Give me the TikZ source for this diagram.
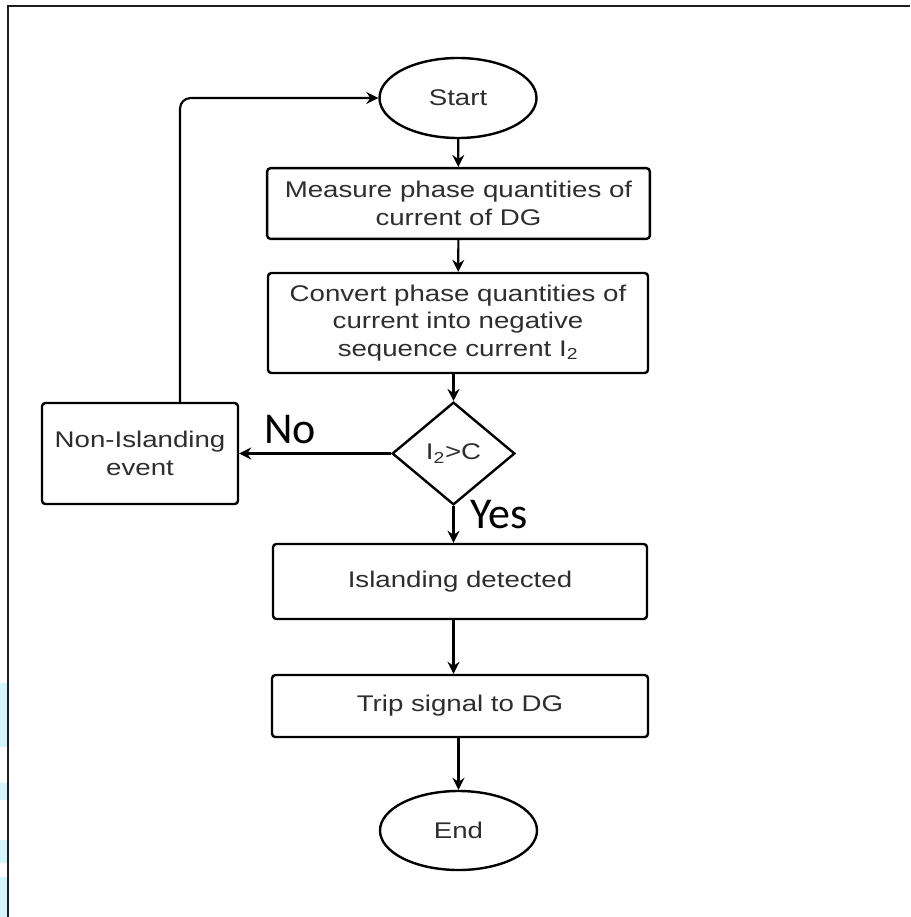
\documentclass[tikz,border=0pt]{standalone}
\usepackage{fontspec}
\setmainfont{Liberation Sans}[FakeStretch=1.22]
\newfontfamily\labfont{Carlito}
\usetikzlibrary{shapes.geometric,arrows.meta,calc}
\definecolor{txt}{HTML}{2E2E2E}
\definecolor{blot}{HTML}{D2F6FA}
\tikzset{
  box/.style={draw, line width=1.8pt, rounded corners=2.5pt, align=center, text=txt, inner sep=2pt,
     font=\fontsize{17}{20.5}\selectfont},
  oval/.style={draw, ellipse, line width=1.8pt, text=txt, inner sep=0pt, minimum width=117.75pt, minimum height=60pt,
     font=\fontsize{17}{20.5}\selectfont},
  decision/.style={draw, diamond, line width=1.8pt, text=txt, inner sep=0pt, minimum width=92pt, minimum height=77pt,
     font=\fontsize{17}{20.5}\selectfont},
  flow/.style={line width=1.6pt, -{Stealth[length=9pt,width=9pt,inset=3pt]}},
  lab/.style={font=\labfont\fontsize{33}{35}\selectfont, inner sep=0pt}
}
\begin{document}
\begin{tikzpicture}[x=0.75pt,y=-0.75pt]
\useasboundingbox (0,0) rectangle (910,917);
\fill[white] (0,0) rectangle (910,917);
% light blotches at left edge
\fill[blot] (0,683) rectangle (7,747);
\fill[blot] (0,783) rectangle (7,800);
\fill[blot] (0,840) rectangle (7,863);
\fill[blot] (0,877) rectangle (7,917);
% frame
\draw[line width=2.2pt, color=black!88] (8,917) -- (8,6) -- (910,6);

\node[oval] (start) at (458,98) {Start};
\node[box, minimum width=287pt, minimum height=53pt] (meas) at (458.5,203.5) {Measure phase quantities of\\current of DG};
\node[box, minimum width=285pt, minimum height=75pt] (conv) at (458,323) {Convert phase quantities of\\current into negative\\sequence current I\textsubscript{2}};
\node[decision] (dec) at (453.5,453.5) {I\textsubscript{2}>C};
\node[box, minimum width=147pt, minimum height=75.75pt] (non) at (140,453.5) {Non-Islanding\\event};
\node[box, minimum width=280.5pt, minimum height=56.25pt] (isl) at (460,581.5) {Islanding detected};
\node[box, minimum width=282pt, minimum height=46.5pt] (trip) at (460,706) {Trip signal to DG};
\node[oval, minimum height=59.25pt] (end) at (458.5,830.5) {End};

\node[lab] (no) at (290,430) {No};
\node[lab] (yes) at (499,515) {Yes};

\draw[flow] (start) -- (meas);
\draw[flow] (meas) -- (conv);
\draw[flow] (dec.north |- conv.south) -- (dec.north);
\draw[flow] (dec.south) -- (dec.south |- isl.north);
\draw[flow] (isl.south -| dec.south) -- (trip.north -| dec.south);
\draw[flow] (trip.south -| end.north) -- (end.north);
\draw[flow] (dec.west) -- (non.east);
\coordinate (up) at ($(non.north)+(40,0)$);
\draw[flow, rounded corners=8pt] (up) |- (start.west);
\end{tikzpicture}
\end{document}
